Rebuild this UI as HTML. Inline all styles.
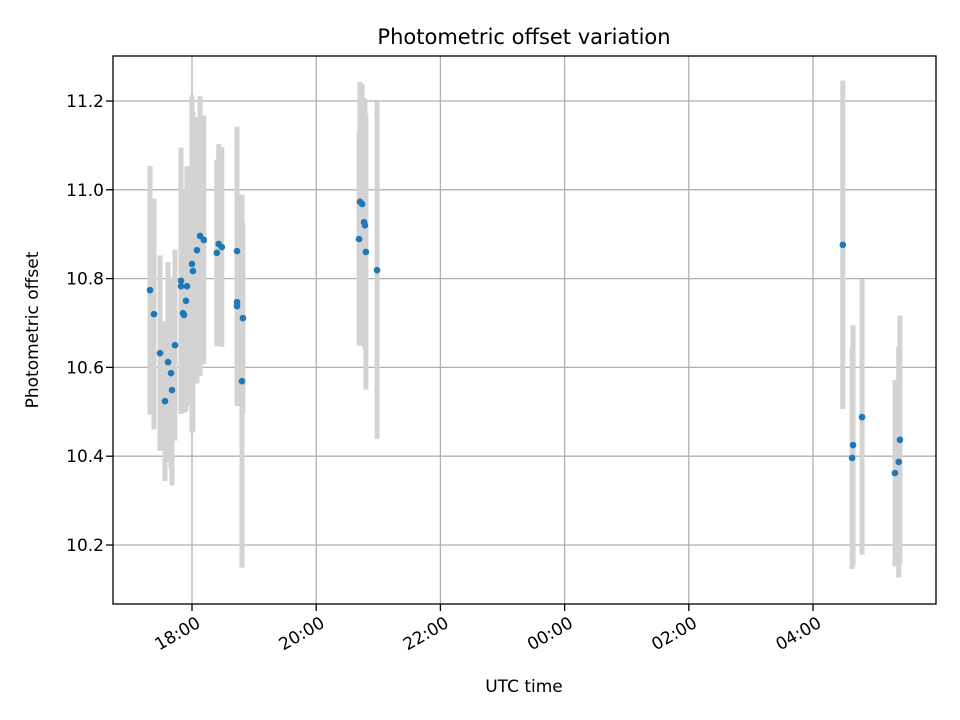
<!DOCTYPE html>
<html><head><meta charset="utf-8"><style>body{margin:0;background:#fff}svg{display:block;font-family:"DejaVu Sans","Liberation Sans",sans-serif}</style></head>
<body>
<svg id="chart" width="960" height="720" xmlns="http://www.w3.org/2000/svg">
<rect width="960" height="720" fill="#fff"/>
<text x="524" y="44" style="font-size:21px" text-anchor="middle">Photometric offset variation</text>
<g id="grid"></g><g id="bars"></g><g id="pts"></g>
<rect x="113" y="56" width="823" height="548" fill="none" stroke="#000" stroke-width="1.3"/>
<g id="axes"></g>
<text x="524" y="692" style="font-size:17px" text-anchor="middle">UTC time</text>
<text transform="translate(38,330) rotate(-90)" style="font-size:17px" text-anchor="middle">Photometric offset</text>
</svg>
<script>
const times=[17.324,17.388,17.485,17.565,17.614,17.662,17.678,17.726,17.823,17.823,17.855,17.871,17.903,17.919,18.0,18.016,18.08,18.13,18.19,18.40,18.43,18.48,18.725,18.725,18.725,18.82,18.805,20.705,20.74,20.77,20.785,20.69,20.80,20.98,28.48,28.63,28.645,28.79,29.32,29.38,29.40];
const offsets=[10.774,10.720,10.632,10.524,10.612,10.587,10.549,10.650,10.795,10.783,10.722,10.718,10.750,10.783,10.833,10.817,10.864,10.896,10.887,10.858,10.878,10.871,10.862,10.747,10.738,10.711,10.569,10.973,10.968,10.927,10.920,10.889,10.860,10.819,10.876,10.396,10.425,10.488,10.362,10.387,10.437];
const errors=[0.28,0.26,0.22,0.18,0.225,0.215,0.215,0.215,0.30,0.28,0.215,0.22,0.25,0.27,0.38,0.36,0.30,0.315,0.28,0.21,0.225,0.225,0.28,0.225,0.225,0.215,0.42,0.27,0.27,0.28,0.28,0.24,0.31,0.38,0.37,0.25,0.27,0.31,0.21,0.26,0.28];
const yTicks=[10.2,10.4,10.6,10.8,11.0,11.2];
const xTicks=[18,20,22,24,26,28];
const xTickLabels=["18:00","20:00","22:00","00:00","02:00","04:00"];
const NS="http://www.w3.org/2000/svg";
const X=t=>192+(t-18)*62.1;
const Y=v=>101+(11.2-v)*444;
function mk(tag,attrs,parent){const e=document.createElementNS(NS,tag);for(const k in attrs)e.setAttribute(k,attrs[k]);document.getElementById(parent).appendChild(e);return e;}
xTicks.forEach((t,i)=>{const x=X(t);
 const g=mk('line',{x1:x,x2:x,y1:56,y2:604,stroke:'#b0b0b0','stroke-width':1.3},'grid');
 
 
 const tk=mk('line',{x1:x,x2:x,y1:604,y2:611,stroke:'#000','stroke-width':1.3},'axes');
 
 
 const tx=mk('text',{x:x+3,y:628,style:'font-size:17px','text-anchor':'end',transform:`rotate(-30 ${x+3} 615)`},'axes');
 tx.textContent=xTickLabels[i];
 
 
});
yTicks.forEach(v=>{const y=Y(v);
 const g=mk('line',{x1:113,x2:936,y1:y,y2:y,stroke:'#b0b0b0','stroke-width':1.3},'grid');
 
 
 const tk=mk('line',{x1:106,x2:113,y1:y,y2:y,stroke:'#000','stroke-width':1.3},'axes');
 
 
 const tx=mk('text',{x:104,y:y+6,style:'font-size:17px','text-anchor':'end'},'axes');
 tx.textContent=v.toFixed(1);
 
 
});
times.forEach((t,i)=>{const x=X(t);
 const b=mk('line',{x1:x,x2:x,y1:Y(offsets[i]+errors[i]),y2:Y(offsets[i]-errors[i]),stroke:'#d3d3d3','stroke-width':5},'bars');
 
 
});
times.forEach((t,i)=>{
 const p=mk('circle',{cx:X(t),cy:Y(offsets[i]),r:3.3,fill:'#1f77b4'},'pts');
 
 
});
</script>
</body></html>
